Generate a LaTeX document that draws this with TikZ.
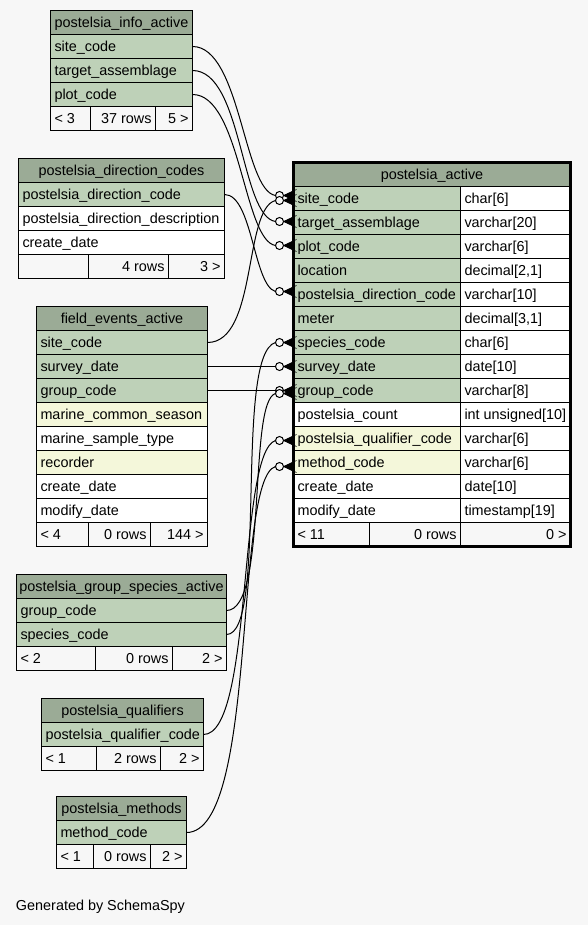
\documentclass[tikz,border=0pt]{standalone}
\usepackage{fontspec}
\setmainfont{Liberation Sans}
\definecolor{bg}{HTML}{F7F7F7}
\definecolor{hdr}{HTML}{9BAB96}
\definecolor{key}{HTML}{BED1B8}
\definecolor{idx}{HTML}{F4F7DA}
\definecolor{foot}{HTML}{F7F7F7}
\newcommand\cellL[6]{\node[cell,fill=#5,minimum width=#4pt] (#1) at (#2,#3) {};
  \node[lbl,anchor=base west] (#1-t) at ([xshift=4pt,yshift=-5pt]#1.west) {#6};}
\newcommand\cellR[6]{\node[cell,fill=#5,minimum width=#4pt] (#1) at (#2,#3) {};
  \node[lbl,anchor=base east] (#1-t) at ([xshift=-4pt,yshift=-5pt]#1.east) {#6};}
\newcommand\cellC[6]{\node[cell,fill=#5,minimum width=#4pt] (#1) at (#2,#3) {};
  \node[lbl,anchor=base] (#1-t) at ([yshift=-5pt]#1.center) {#6};}
\newcommand\crowend[3]{%
  \fill ([xshift=-10pt,yshift=#3]#2.west) -- ([yshift=#3+5pt]#2.west) -- ([yshift=#3-5pt]#2.west) -- cycle;
  \draw[line width=0.6pt] ([xshift=-10pt,yshift=#3]#2.west) -- ([xshift=3pt,yshift=#3+6pt]#2.west)
     ([xshift=-10pt,yshift=#3]#2.west) -- ([xshift=3pt,yshift=#3-6pt]#2.west);
  \node[odot] (#1) at ([xshift=-14pt,yshift=#3]#2.west) {};}
\begin{document}
\begin{tikzpicture}[x=1pt,y=-1pt,
  cell/.style={draw=black,line width=1pt,minimum height=24pt,inner sep=0pt,outer sep=0pt,anchor=north west},
  lbl/.style={inner sep=0pt,outer sep=0pt,font=\fontsize{14.4}{16}\selectfont,text=black},
  odot/.style={circle,draw=black,line width=1pt,fill=bg,minimum size=8pt,inner sep=0pt,outer sep=0pt},
  conn/.style={draw=black,line width=1pt}]
\fill[bg] (0,0) rectangle (588,925);
\useasboundingbox (0,0) rectangle (588,925);
\begin{scope}[shift={(0.5,0.5)}]
% postelsia_info_active
\cellC{info-h}{50}{10}{142}{hdr}{postelsia\_info\_active}
\cellL{info-site}{50}{34}{142}{key}{site\_code}
\cellL{info-target}{50}{58}{142}{key}{target\_assemblage}
\cellL{info-plot}{50}{82}{142}{key}{plot\_code}
\cellL{info-f1}{50}{106}{40}{foot}{< 3}
\cellR{info-f2}{90}{106}{65}{foot}{37 rows}
\cellR{info-f3}{155}{106}{37}{foot}{5 >}

% postelsia_direction_codes
\cellC{dir-h}{18}{158}{206}{hdr}{postelsia\_direction\_codes}
\cellL{dir-code}{18}{182}{206}{key}{postelsia\_direction\_code}
\cellL{dir-desc}{18}{206}{206}{white}{postelsia\_direction\_description}
\cellL{dir-cd}{18}{230}{206}{white}{create\_date}
\cellL{dir-f1}{18}{254}{70}{foot}{}
\cellR{dir-f2}{88}{254}{80}{foot}{4 rows}
\cellR{dir-f3}{168}{254}{56}{foot}{3 >}

% field_events_active
\cellC{fe-h}{36}{306}{171}{hdr}{field\_events\_active}
\cellL{fe-site}{36}{330}{171}{key}{site\_code}
\cellL{fe-survey}{36}{354}{171}{key}{survey\_date}
\cellL{fe-group}{36}{378}{171}{key}{group\_code}
\cellL{fe-mcs}{36}{402}{171}{idx}{marine\_common\_season}
\cellL{fe-mst}{36}{426}{171}{white}{marine\_sample\_type}
\cellL{fe-rec}{36}{450}{171}{idx}{recorder}
\cellL{fe-cd}{36}{474}{171}{white}{create\_date}
\cellL{fe-md}{36}{498}{171}{white}{modify\_date}
\cellL{fe-f1}{36}{522}{52}{foot}{< 4}
\cellR{fe-f2}{88}{522}{62}{foot}{0 rows}
\cellR{fe-f3}{150}{522}{57}{foot}{144 >}

% postelsia_group_species_active
\cellC{gs-h}{16}{574}{210}{hdr}{postelsia\_group\_species\_active}
\cellL{gs-group}{16}{598}{210}{key}{group\_code}
\cellL{gs-species}{16}{622}{210}{key}{species\_code}
\cellL{gs-f1}{16}{646}{79}{foot}{< 2}
\cellR{gs-f2}{95}{646}{77}{foot}{0 rows}
\cellR{gs-f3}{172}{646}{54}{foot}{2 >}

% postelsia_qualifiers
\cellC{q-h}{41}{698}{162}{hdr}{postelsia\_qualifiers}
\cellL{q-code}{41}{722}{162}{key}{postelsia\_qualifier\_code}
\cellL{q-f1}{41}{746}{55}{foot}{< 1}
\cellR{q-f2}{96}{746}{64}{foot}{2 rows}
\cellR{q-f3}{160}{746}{43}{foot}{2 >}

% postelsia_methods
\cellC{m-h}{56}{796}{130}{hdr}{postelsia\_methods}
\cellL{m-code}{56}{820}{130}{key}{method\_code}
\cellL{m-f1}{56}{844}{37}{foot}{< 1}
\cellR{m-f2}{93}{844}{57}{foot}{0 rows}
\cellR{m-f3}{150}{844}{36}{foot}{2 >}

% postelsia_active
\cellC{pa-h}{293}{162}{277}{hdr}{postelsia\_active}
\cellL{pa-site}{293}{186}{167}{key}{site\_code}
\cellL{pa-site-ty}{460}{186}{110}{white}{char[6]}
\cellL{pa-target}{293}{210}{167}{key}{target\_assemblage}
\cellL{pa-target-ty}{460}{210}{110}{white}{varchar[20]}
\cellL{pa-plot}{293}{234}{167}{key}{plot\_code}
\cellL{pa-plot-ty}{460}{234}{110}{white}{varchar[6]}
\cellL{pa-loc}{293}{258}{167}{key}{location}
\cellL{pa-loc-ty}{460}{258}{110}{white}{decimal[2,1]}
\cellL{pa-dir}{293}{282}{167}{key}{postelsia\_direction\_code}
\cellL{pa-dir-ty}{460}{282}{110}{white}{varchar[10]}
\cellL{pa-meter}{293}{306}{167}{key}{meter}
\cellL{pa-meter-ty}{460}{306}{110}{white}{decimal[3,1]}
\cellL{pa-species}{293}{330}{167}{key}{species\_code}
\cellL{pa-species-ty}{460}{330}{110}{white}{char[6]}
\cellL{pa-survey}{293}{354}{167}{key}{survey\_date}
\cellL{pa-survey-ty}{460}{354}{110}{white}{date[10]}
\cellL{pa-group}{293}{378}{167}{key}{group\_code}
\cellL{pa-group-ty}{460}{378}{110}{white}{varchar[8]}
\cellL{pa-count}{293}{402}{167}{white}{postelsia\_count}
\cellL{pa-count-ty}{460}{402}{110}{white}{int unsigned[10]}
\cellL{pa-qual}{293}{426}{167}{idx}{postelsia\_qualifier\_code}
\cellL{pa-qual-ty}{460}{426}{110}{white}{varchar[6]}
\cellL{pa-meth}{293}{450}{167}{idx}{method\_code}
\cellL{pa-meth-ty}{460}{450}{110}{white}{varchar[6]}
\cellL{pa-cd}{293}{474}{167}{white}{create\_date}
\cellL{pa-cd-ty}{460}{474}{110}{white}{date[10]}
\cellL{pa-md}{293}{498}{167}{white}{modify\_date}
\cellL{pa-md-ty}{460}{498}{110}{white}{timestamp[19]}
\cellL{pa-f1}{293}{522}{76}{foot}{< 11}
\cellR{pa-f2}{369}{522}{91}{foot}{0 rows}
\cellR{pa-f3}{460}{522}{110}{foot}{0 >}
\draw[line width=3pt] (pa-h.north west) rectangle (pa-f3.south east);

% connector ends
\crowend{o1}{pa-site}{3pt}
\crowend{o5}{pa-site}{-2pt}
\crowend{o2}{pa-target}{1pt}
\crowend{o3}{pa-plot}{1pt}
\crowend{o4}{pa-dir}{3pt}
\crowend{o9}{pa-species}{0pt}
\crowend{o6}{pa-survey}{0pt}
\crowend{o7}{pa-group}{0pt}
\crowend{o8}{pa-group}{-3pt}
\crowend{o10}{pa-qual}{-2pt}
\crowend{o11}{pa-meth}{-4pt}

% connectors
\draw[conn] (info-site.east) .. controls +(48,0) and +(-32,-5) .. (o1.west);
\draw[conn] (info-target.east) .. controls +(50,0) and +(-35,-5) .. (o2.west);
\draw[conn] (info-plot.east) .. controls +(48,0) and +(-32,-5) .. (o3.west);
\draw[conn] (dir-code.east) .. controls +(28,0) and +(-22,-6) .. (o4.west);
\draw[conn] (fe-site.east) .. controls +(50,0) and +(-32,8) .. (o5.west);
\draw[conn] (fe-survey.east) -- (o6.west);
\draw[conn] (fe-group.east) -- (o7.west);
\draw[conn] (gs-group.east) .. controls +(42,0) and +(-28,8) .. (o8.west);
\draw[conn] (gs-species.east) .. controls +(42,0) and +(-42,12) .. (o9.west);
\draw[conn] (q-code.east) .. controls +(50,0) and +(-38,12) .. (o10.west);
\draw[conn] (m-code.east) .. controls +(72,0) and +(-42,12) .. (o11.west);
\end{scope}
\node[lbl,anchor=base west] (gen) at (16,910) {Generated by SchemaSpy};
\end{tikzpicture}
\end{document}
